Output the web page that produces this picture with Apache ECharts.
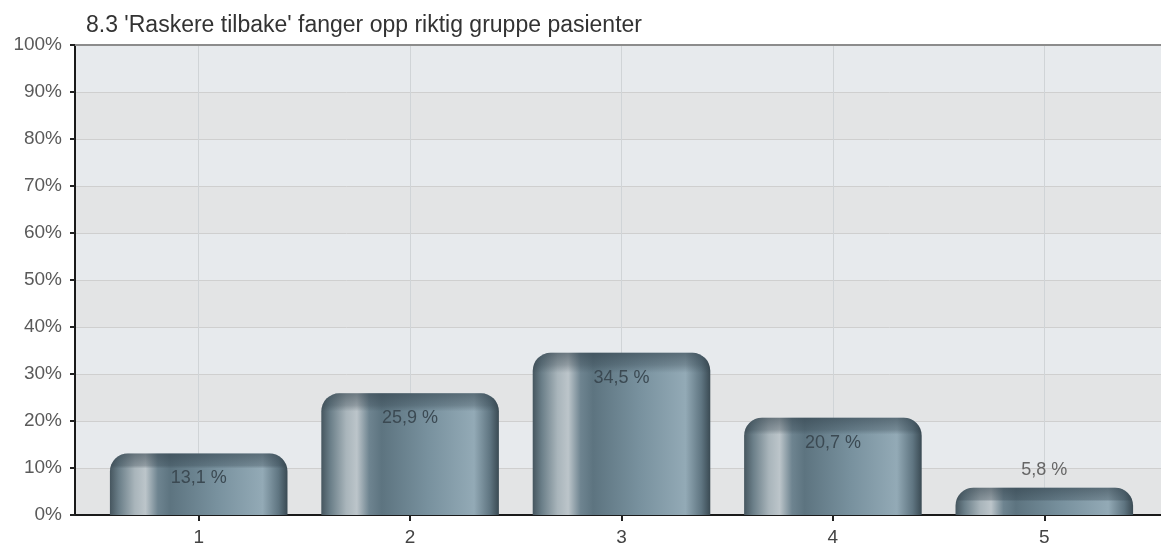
<!DOCTYPE html>
<html>
<head>
<meta charset="utf-8">
<script src="https://cdn.jsdelivr.net/npm/echarts@6/dist/echarts.min.js"></script>
<style>
  html, body { margin: 0; padding: 0; background: #fff; }
  #main { width: 1161px; height: 547px; }
</style>
</head>
<body>
<div id="main"></div>
<script>
// data
const titleText = "8.3 'Raskere tilbake' fanger opp riktig gruppe pasienter"
const categories = ['1', '2', '3', '4', '5']
const shares = [13.1, 25.9, 34.5, 20.7, 5.8]
const yMin = 0
const yMax = 100
const yStep = 10

const font = 'Liberation Sans, Arial, sans-serif'
const chart = echarts.init(document.getElementById('main'))

// horizontal "cylinder" shading of the bars
const barFill = new echarts.graphic.LinearGradient(0, 0, 1, 0, [
  { offset: 0, color: '#46565f' },
  { offset: 0.05, color: '#6a7e88' },
  { offset: 0.14, color: '#a9b5bb' },
  { offset: 0.2, color: '#bcc5ca' },
  { offset: 0.27, color: '#6e8490' },
  { offset: 0.34, color: '#5d7480' },
  { offset: 0.6, color: '#78919e' },
  { offset: 0.86, color: '#93aab6' },
  { offset: 0.95, color: '#5f7581' },
  { offset: 1, color: '#3a4a53' }
])

// darker top cap, a fixed number of pixels deep whatever the bar height
function capFill (v) {
  const h = v / (yMax - yMin) * 470
  const f = Math.min(12 / h, 0.9)
  return new echarts.graphic.LinearGradient(0, 0, 0, 1, [
    { offset: 0, color: 'rgba(45,60,70,0.55)' },
    { offset: f, color: 'rgba(45,60,70,0.3)' },
    { offset: Math.min(f + 0.05, 1), color: 'rgba(45,60,70,0)' },
    { offset: 1, color: 'rgba(45,60,70,0)' }
  ])
}

const fmt = p => p.value.toFixed(1).replace('.', ',') + ' %'

const option = {
  backgroundColor: '#fff',
  animation: false,
  title: {
    text: titleText,
    left: 86,
    top: 14,
    padding: 0,
    textStyle: { fontFamily: font, fontSize: 23, fontWeight: 'normal', color: '#333', lineHeight: 24 }
  },
  grid: [
    // plot frame: background bands, horizontal lines, axes
    { left: 75, right: 0, top: 45, bottom: 32 },
    // bars and category axis
    { left: 93, right: 11, top: 45, bottom: 32 }
  ],
  xAxis: [
    {
      gridIndex: 0, type: 'value', min: 0, max: 1,
      axisLine: { show: true, lineStyle: { color: '#1a1a1a', width: 2 } },
      axisTick: { show: false }, axisLabel: { show: false }, splitLine: { show: false }
    },
    {
      gridIndex: 1, type: 'category', data: categories,
      axisLine: { show: false },
      axisTick: { show: true, alignWithLabel: true, length: 6, lineStyle: { color: '#222', width: 2 } },
      axisLabel: { fontFamily: font, fontSize: 19, color: '#444', margin: 13 },
      splitLine: { show: true, alignWithLabel: true, lineStyle: { color: '#d0d4d7', width: 1 } }
    },
    {
      gridIndex: 0, type: 'value', min: 0, max: 1, position: 'top',
      axisLine: { show: true, lineStyle: { color: '#8c8c8c', width: 2 } },
      axisTick: { show: false }, axisLabel: { show: false }, splitLine: { show: false }
    }
  ],
  yAxis: [
    {
      gridIndex: 0, type: 'value', min: yMin, max: yMax, interval: yStep,
      axisLine: { show: true, lineStyle: { color: '#1a1a1a', width: 2 } },
      axisTick: { show: true, length: 5, lineStyle: { color: '#222', width: 2 } },
      axisLabel: { fontFamily: font, fontSize: 19, color: '#5a5a5a', margin: 13, formatter: '{value}%' },
      splitLine: { show: true, lineStyle: { color: '#cfcfcf', width: 1 } },
      splitArea: { show: true, areaStyle: { color: ['#e3e4e5', '#e7eaed'] } }
    },
    {
      gridIndex: 1, type: 'value', min: yMin, max: yMax, interval: yStep, show: false
    }
  ],
  series: [
    {
      type: 'bar',
      xAxisIndex: 1,
      yAxisIndex: 1,
      data: shares,
      barWidth: '84%',
      itemStyle: { color: barFill, borderRadius: [18, 18, 0, 0] }
    },
    {
      type: 'bar',
      xAxisIndex: 1,
      yAxisIndex: 1,
      barGap: '-100%',
      barWidth: '84%',
      data: shares.map(v => ({
        value: v,
        itemStyle: { color: capFill(v) },
        label: v < 10 ? { position: 'top', distance: 9, color: '#666' } : {}
      })),
      itemStyle: { borderRadius: [18, 18, 0, 0] },
      label: {
        show: true,
        position: 'insideTop',
        distance: 16,
        fontFamily: font,
        fontSize: 18,
        color: '#3b4952',
        formatter: fmt
      }
    }
  ]
}

chart.setOption(option)
window.addEventListener('resize', () => chart.resize())
</script>
</body>
</html>
